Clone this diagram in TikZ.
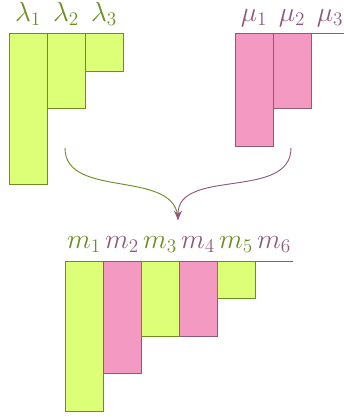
\documentclass[tikz,border=0pt]{standalone}
\usetikzlibrary{arrows.meta}
\definecolor{lgreen}{HTML}{DDFF77}
\definecolor{dgreen}{HTML}{6B8E23}
\definecolor{lpink}{HTML}{F49AC2}
\definecolor{dpink}{HTML}{8E5A7C}
\begin{document}
\begin{tikzpicture}[x=0.26316mm,y=-0.26316mm,
  gbar/.style={fill=lgreen,draw=dgreen,line width=0.7pt},
  pbar/.style={fill=lpink,draw=dpink,line width=0.7pt},
  glab/.style={text=dgreen,anchor=base,font=\huge,inner sep=0pt},
  plab/.style={text=dpink,anchor=base,font=\huge,inner sep=0pt},
  gline/.style={draw=dgreen,line width=0.7pt},
  pline/.style={draw=dpink,line width=0.7pt}]
\useasboundingbox (0,0) rectangle (344,417);
% lambda
\draw[gbar] (9,33) rectangle (47,184);
\draw[gbar] (47,33) rectangle (85,108);
\draw[gbar] (85,33) rectangle (123,71);
\node[glab] (l1) at (28,21) {$\lambda_1$};
\node[glab] (l2) at (66,21) {$\lambda_2$};
\node[glab] (l3) at (104,21) {$\lambda_3$};
% mu
\draw[pbar] (235,33) rectangle (273,146);
\draw[pbar] (273,33) rectangle (311,108);
\draw[pline] (311,33) -- (349,33);
\node[plab] (u1) at (254,21) {$\mu_1$};
\node[plab] (u2) at (292,21) {$\mu_2$};
\node[plab] (u3) at (330,21) {$\mu_3$};
% m
\draw[gbar] (65,261) rectangle (103,411);
\draw[pbar] (103,261) rectangle (141,373);
\draw[gbar] (141,261) rectangle (179,336);
\draw[pbar] (179,261) rectangle (217,336);
\draw[gbar] (217,261) rectangle (255,298);
\draw[pline] (255,261) -- (293,261);
\node[glab] (m1) at (84,248) {$m_1$};
\node[plab] (m2) at (122,248) {$m_2$};
\node[glab] (m3) at (160,248) {$m_3$};
\node[plab] (m4) at (198,248) {$m_4$};
\node[glab] (m5) at (236,248) {$m_5$};
\node[plab] (m6) at (274,248) {$m_6$};
% arrows
\coordinate (ls) at (65,148);
\coordinate (us) at (291,148);
\coordinate (t) at (178,220);
\draw[gline] (ls) to[out=-90,in=90,looseness=1] (t);
\draw[pline,-{Stealth[length=7pt,width=6pt]}] (us) to[out=-90,in=90,looseness=1] (t);
\end{tikzpicture}
\end{document}
